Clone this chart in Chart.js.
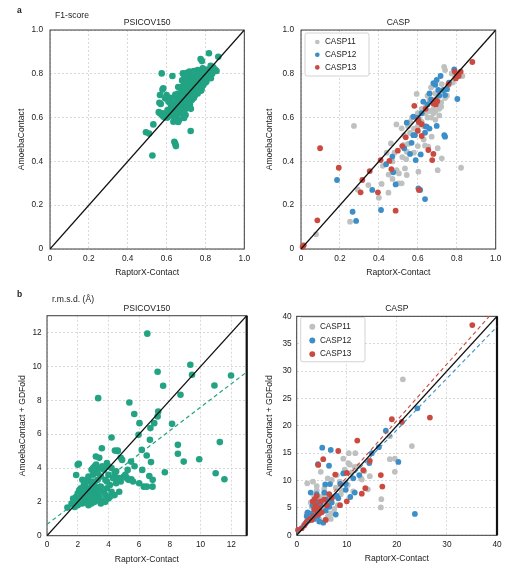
<!DOCTYPE html>
<html><head><meta charset="utf-8">
<script src="https://cdn.jsdelivr.net/npm/chart.js@4.4.1/dist/chart.umd.min.js"></script>
<style>
html,body{margin:0;padding:0;background:#fff;}
#wrap{position:relative;width:515px;height:570px;overflow:hidden;font-family:"Liberation Sans",Arial,Helvetica,sans-serif;color:#222;}
canvas{position:absolute;}
.lbl{position:absolute;white-space:nowrap;line-height:1;}
</style></head><body>
<div id="wrap">
<canvas id="c1" width="257" height="280" style="left:0;top:0"></canvas>
<canvas id="c2" width="258" height="280" style="left:257px;top:0"></canvas>
<canvas id="c3" width="257" height="290" style="left:0;top:280px"></canvas>
<canvas id="c4" width="258" height="290" style="left:257px;top:280px"></canvas>
<div class="lbl" style="left:17px;top:6px;font-weight:bold;font-size:8.5px">a</div>
<div class="lbl" style="left:55px;top:10.7px;font-size:8.6px">F1-score</div>
<div class="lbl" style="left:17px;top:290px;font-weight:bold;font-size:8.5px">b</div>
<div class="lbl" style="left:52px;top:295.2px;font-size:8.6px">r.m.s.d. (Å)</div>
</div>
<script>
// ---------- DATA ----------
const xTitle = 'RaptorX-Contact';
const yTitleF1 = 'AmoebaContact';
const yTitleRmsd = 'AmoebaContact + GDFold';
const seriesNames = ['CASP11', 'CASP12', 'CASP13'];

// F1-score, PSICOV150  [RaptorX-Contact, AmoebaContact]
const psicovF1 = [
 [0.818,0.894],[0.866,0.878],[0.775,0.868],[0.782,0.858],[0.827,0.837],[0.850,0.820],[0.857,0.813],
 [0.575,0.802],[0.630,0.790],[0.684,0.802],[0.718,0.810],[0.740,0.813],[0.760,0.817],[0.786,0.825],
 [0.583,0.734],[0.579,0.728],[0.566,0.703],[0.600,0.703],[0.592,0.688],[0.563,0.668],[0.570,0.662],
 [0.566,0.620],[0.575,0.613],[0.583,0.605],[0.600,0.620],[0.630,0.650],[0.622,0.660],[0.532,0.569],
 [0.635,0.581],[0.686,0.600],[0.698,0.612],[0.494,0.533],[0.510,0.527],[0.724,0.539],[0.640,0.490],
 [0.645,0.480],[0.648,0.470],[0.527,0.427],[0.777,0.723],[0.790,0.750],[0.805,0.765],[0.810,0.820],
 [0.830,0.810],[0.800,0.800],
 [0.620,0.640],[0.630,0.665],[0.640,0.630],[0.650,0.672],[0.660,0.650],[0.660,0.690],[0.670,0.680],
 [0.670,0.710],[0.680,0.660],[0.680,0.700],[0.680,0.730],[0.690,0.690],[0.690,0.720],[0.700,0.680],
 [0.700,0.710],[0.700,0.740],[0.700,0.760],[0.710,0.700],[0.710,0.730],[0.710,0.750],[0.720,0.720],
 [0.720,0.740],[0.720,0.770],[0.730,0.710],[0.730,0.750],[0.730,0.780],[0.740,0.730],[0.740,0.760],
 [0.740,0.790],[0.750,0.740],[0.750,0.770],[0.750,0.800],[0.760,0.750],[0.760,0.780],[0.770,0.760],
 [0.770,0.790],[0.780,0.770],[0.780,0.800],[0.790,0.780],[0.800,0.790],[0.800,0.760],[0.815,0.805],
 [0.820,0.790],[0.835,0.800],[0.690,0.650],[0.670,0.630],[0.650,0.610],[0.640,0.600],[0.660,0.620],
 [0.680,0.620],[0.700,0.640],[0.720,0.660],[0.740,0.690],[0.760,0.710],[0.780,0.730],[0.730,0.680],
 [0.710,0.670],[0.690,0.598],[0.665,0.590],[0.660,0.580],[0.600,0.605],[0.610,0.630],[0.620,0.610],
 [0.605,0.600],[0.580,0.620],[0.590,0.600],[0.560,0.625],[0.605,0.635],[0.650,0.690],[0.660,0.710],
 [0.675,0.740],[0.690,0.760],[0.700,0.790],[0.705,0.805],[0.725,0.800],[0.745,0.805],[0.765,0.800],
 [0.785,0.790],[0.795,0.810],[0.755,0.760],[0.735,0.740],[0.715,0.715],[0.695,0.700],[0.675,0.695],
 [0.655,0.655],[0.645,0.645],[0.635,0.620],[0.625,0.625],[0.685,0.675],[0.705,0.690],[0.725,0.700],
 [0.745,0.720],[0.765,0.740],[0.790,0.765],[0.810,0.780],[0.825,0.820],[0.840,0.830],[0.760,0.800],
 [0.735,0.720],[0.715,0.690],[0.650,0.630],[0.755,0.720],
 [0.660,0.740],[0.680,0.770],[0.645,0.705],[0.620,0.690],[0.610,0.672],[0.765,0.720],[0.785,0.745],
 [0.745,0.700],[0.705,0.660],[0.725,0.640],[0.668,0.640],[0.692,0.785],[0.712,0.790],[0.828,0.780]
];

// F1-score, CASP
const casp11F1 = [
 [0.272,0.562],[0.077,0.067],[0.252,0.125],[0.291,0.272],[0.346,0.292],[0.414,0.297],[0.400,0.234],
 [0.449,0.257],[0.470,0.320],[0.500,0.300],[0.517,0.300],[0.462,0.482],[0.490,0.569],[0.517,0.551],
 [0.526,0.475],[0.543,0.444],[0.491,0.360],[0.503,0.345],[0.534,0.368],[0.543,0.338],[0.603,0.353],
 [0.637,0.472],[0.654,0.467],[0.671,0.513],[0.702,0.460],[0.723,0.414],[0.702,0.360],[0.822,0.371],
 [0.594,0.708],[0.668,0.738],[0.688,0.711],[0.723,0.753],[0.774,0.802],[0.735,0.832],[0.740,0.817],
 [0.829,0.790],[0.791,0.784],[0.600,0.620],[0.620,0.640],[0.640,0.650],[0.660,0.630],[0.650,0.600],
 [0.680,0.640],[0.700,0.660],[0.720,0.670],[0.740,0.690],[0.620,0.580],[0.600,0.560],[0.580,0.550],
 [0.560,0.530],[0.550,0.560],[0.570,0.600],[0.630,0.560],[0.680,0.620],[0.700,0.700],[0.730,0.720],
 [0.760,0.750],[0.660,0.680],[0.690,0.630],[0.710,0.640],[0.640,0.620],[0.420,0.380],[0.450,0.340],
 [0.470,0.400],[0.440,0.440],[0.520,0.420],[0.540,0.410],[0.580,0.440],[0.630,0.500],[0.600,0.470],
 [0.550,0.480],[0.610,0.590],[0.670,0.600],[0.710,0.610],[0.750,0.700],[0.780,0.760],[0.810,0.800],
 [0.650,0.700],[0.560,0.580],[0.530,0.520],[0.480,0.440],[0.720,0.650],[0.690,0.590]
];
const casp12F1 = [
 [0.185,0.315],[0.265,0.170],[0.283,0.128],[0.366,0.270],[0.411,0.178],[0.437,0.387],[0.469,0.422],
 [0.474,0.350],[0.486,0.295],[0.543,0.577],[0.577,0.604],[0.560,0.434],[0.615,0.432],[0.577,0.520],
 [0.637,0.531],[0.646,0.559],[0.697,0.562],[0.740,0.513],[0.736,0.520],[0.803,0.685],[0.628,0.673],
 [0.668,0.683],[0.705,0.726],[0.697,0.772],[0.717,0.790],[0.680,0.757],[0.787,0.820],[0.731,0.726],
 [0.740,0.703],[0.603,0.277],[0.612,0.270],[0.637,0.228],[0.589,0.406],[0.568,0.485],[0.585,0.520],
 [0.660,0.710],[0.690,0.750],[0.650,0.660],[0.620,0.620],[0.600,0.600],[0.530,0.460],[0.640,0.560],
 [0.660,0.550],[0.760,0.760],[0.710,0.700],[0.750,0.730]
];
const casp13F1 = [
 [0.098,0.460],[0.194,0.371],[0.084,0.131],[0.014,0.017],[0.008,0.010],[0.315,0.315],[0.306,0.259],
 [0.353,0.356],[0.395,0.259],[0.409,0.406],[0.486,0.175],[0.454,0.402],[0.464,0.365],[0.497,0.449],
 [0.880,0.854],[0.790,0.810],[0.800,0.800],[0.810,0.790],[0.795,0.779],[0.757,0.753],[0.685,0.670],
 [0.690,0.680],[0.680,0.665],[0.700,0.675],[0.692,0.660],[0.582,0.654],[0.605,0.580],[0.620,0.570],
 [0.600,0.540],[0.538,0.510],[0.620,0.516],[0.654,0.452],[0.680,0.434],[0.674,0.406],[0.606,0.270],
 [0.640,0.640],[0.820,0.810],[0.600,0.590],[0.520,0.470]
];

// r.m.s.d. (Å), PSICOV150  [RaptorX-Contact, AmoebaContact + GDFold]
const psicovRmsd = [
 [6.53,11.94],[9.33,10.10],[9.44,9.51],[7.20,9.69],[7.56,8.86],[11.98,9.47],[10.90,8.88],[8.69,8.33],
 [3.33,8.13],[5.36,7.87],[5.68,7.19],[7.24,7.34],[7.20,7.05],[6.02,6.65],[6.98,6.65],[8.14,6.61],
 [6.73,6.36],[5.96,5.96],[4.20,5.80],[6.70,5.67],[11.25,5.53],[8.52,5.37],[3.57,5.17],[4.42,5.03],
 [4.60,5.03],[6.17,5.07],[6.49,4.74],[8.52,4.84],[6.77,4.35],[8.90,4.38],[9.91,4.52],[5.47,4.38],
 [2.07,4.25],[3.18,4.68],[6.20,3.89],[10.98,3.69],[7.67,3.75],[6.66,3.53],[6.88,3.30],[11.55,3.34],
 [6.00,3.10],[6.30,2.90],[6.50,2.90],[6.87,2.90],[1.90,3.59],[5.49,3.34],[5.06,3.49],[5.25,3.89],
 [4.89,4.48],[1.33,1.66],[3.60,2.07],[4.31,2.41],
 [1.60,1.90],[1.80,2.00],[1.90,2.30],[2.00,1.80],[2.00,2.50],[2.10,2.10],[2.20,2.80],[2.20,2.30],
 [2.30,1.90],[2.30,2.60],[2.40,2.20],[2.40,3.00],[2.50,2.00],[2.50,2.50],[2.60,2.80],[2.60,2.30],
 [2.70,1.80],[2.70,2.60],[2.80,3.20],[2.80,2.10],[2.90,2.40],[2.90,2.90],[3.00,2.20],[3.00,3.60],
 [3.00,2.70],[3.10,4.10],[3.10,2.00],[3.10,3.00],[3.20,2.50],[3.20,3.80],[3.30,2.80],[3.30,3.30],
 [3.40,2.30],[3.40,4.00],[3.50,2.90],[3.50,3.50],[3.70,2.60],[3.70,3.90],[3.80,2.40],[3.80,3.30],
 [3.90,2.80],[4.00,3.60],[4.00,2.20],[4.10,3.00],[4.20,4.00],[4.20,2.60],[4.30,3.40],[4.40,2.40],
 [4.50,3.80],[4.50,3.10],[4.60,3.40],[4.70,2.60],[4.80,3.20],[5.00,3.50],[5.20,3.40],[5.70,4.10],
 [2.00,4.20],[2.30,3.30],[2.60,3.30],[2.90,3.90],[3.20,4.20],[3.40,4.60],[4.60,5.00],[4.80,4.60],
 [4.00,4.10],[3.90,4.30],[1.70,2.20],[2.10,2.70],[2.50,3.10],[2.80,2.50],[3.30,2.10],[3.50,1.90],
 [3.80,2.00],[4.10,2.30],[2.70,3.50],[3.00,3.20],[3.30,3.70],[3.60,4.10],[3.00,4.00],[2.40,2.70],
 [2.20,2.00],[1.80,1.70],[2.90,1.90],[3.20,2.20],[3.40,2.60],[3.90,3.20],[4.40,3.70],[4.70,3.40],
 [5.10,3.60],[5.30,3.30],[5.60,3.20]
];

// r.m.s.d. (Å), CASP
const casp11Rmsd = [
 [21.2,28.5],[18.6,18.1],[23.0,16.3],[18.6,13.9],[19.6,14.0],[19.6,11.6],[16.9,6.6],[16.8,5.1],
 [10.4,15.0],[11.7,15.0],[9.3,14.0],[10.3,13.2],[10.6,12.9],[11.3,8.0],[14.2,8.4],[14.6,10.8],
 [8.6,9.8],[7.0,10.1],[2.1,9.5],[3.25,9.8],[4.8,11.6],[11.6,12.5],[12.8,10.5],[13.5,11.7],
 [9.6,12.0],[8.0,11.0],[6.2,10.4],[5.5,8.5],[4.0,8.2],[3.5,7.0],[2.8,6.0],[4.5,6.3],[6.0,7.5],
 [7.2,7.0],[6.5,5.8],[5.2,5.0],[4.3,4.5],[3.2,4.0],[2.5,3.5],[6.8,4.0],[7.5,4.8],[6.2,3.4],
 [8.2,5.5],[9.0,8.2],[10.2,9.2],[12.3,12.6],[13.0,10.2],[11.0,11.5],[3.0,5.2],[2.0,4.0],[5.0,7.0],
 [3.8,5.5],[1.5,2.0],[7.8,8.7],[8.8,7.5],[4.0,9.0],[6.8,3.0],[5.8,2.9],[4.6,2.8]
];
const casp12Rmsd = [
 [24.1,23.2],[17.8,19.1],[20.3,13.4],[23.6,3.9],[16.4,16.1],[15.0,15.0],[5.1,16.0],[6.8,15.6],
 [4.25,13.0],[6.45,12.7],[9.3,11.3],[6.65,9.36],[9.8,9.36],[11.3,10.4],[8.7,9.4],[9.8,8.3],
 [11.6,7.8],[8.3,6.75],[10.7,7.0],[2.8,7.8],[5.3,2.3],[5.7,9.3],[14.5,13.2],[4.0,7.5],[3.0,4.0],
 [2.2,4.2],[2.0,3.5],[3.5,3.0],[4.5,2.5],[5.8,4.5],[6.5,5.2],[7.8,3.8],[4.8,5.8],[3.8,6.2],
 [6.0,6.5],[2.5,2.8],[1.8,2.2],[4.2,3.5],[7.0,6.0],[3.2,5.5],[5.5,7.8],[8.0,7.2],[12.5,11.0]
];
const casp13Rmsd = [
 [35.07,38.4],[26.6,21.5],[19.0,21.2],[21.0,20.7],[16.8,11.0],[17.1,8.9],[12.1,17.3],[8.3,15.4],
 [5.3,13.9],[4.3,12.85],[14.6,13.6],[13.3,11.9],[7.7,11.1],[10.0,11.4],[13.0,7.6],[8.65,5.5],
 [10.0,6.2],[3.6,6.6],[0.26,0.97],[2.0,2.5],[2.7,3.0],[3.3,3.5],[1.5,1.8],[1.0,1.3],[2.4,2.7],
 [3.0,2.8],[4.0,4.5],[4.5,5.0],[3.8,5.5],[4.8,6.2],[5.5,6.5],[5.0,4.2],[6.0,5.5],[3.5,4.8],
 [4.2,3.8],[5.8,2.8],[7.0,6.8],[6.5,7.5],[4.0,7.2],[4.5,4.0],[3.2,6.2],[13.7,8.6]
];

// reference diagonals (y = x) and fitted dashed lines
const diagF1 = [0, 1];
const diagPsicovRmsd = [0, 13];
const diagCaspRmsd = [0, 40];
const fitPsicovX = [0, 13],  fitPsicovY = [0.67, 9.67];
const fitCasp12X = [0, 40],  fitCasp12Y = [0.4, 38.1];
const fitCasp13X = [0, 40],  fitCasp13Y = [0.3, 41.6];

// ---------- STYLE / HELPERS ----------
const FONT = '"Liberation Sans", Arial, Helvetica, sans-serif';
const GREEN = '#22a383', GRAY = '#bec1bf', BLUE = '#3b8ec8', RED = '#cb4a3f';
Chart.defaults.font.family = FONT;
Chart.defaults.color = '#222';

const toPts = arr => arr.map(p => ({x: p[0], y: p[1]}));
const diag = arr => arr.map(v => ({x: v, y: v}));
const line = (xs, ys) => xs.map((v, i) => ({x: v, y: ys[i]}));

const framePlugin = {
  id: 'frame',
  beforeDatasetsDraw(chart, args, o) {
    const {left, top, right, bottom} = chart.chartArea;
    const ctx = chart.ctx;
    ctx.save();
    ctx.strokeStyle = '#3a3a3a';
    ctx.lineWidth = 1;
    ctx.strokeRect(left, top, right - left, bottom - top);
    if (o && o.rightWidth) {
      ctx.lineWidth = o.rightWidth;
      ctx.strokeStyle = '#111';
      ctx.beginPath();
      ctx.moveTo(right, top); ctx.lineTo(right, bottom);
      ctx.stroke();
    }
    ctx.restore();
  }
};

const legendBoxPlugin = {
  id: 'legendBox',
  beforeDraw(chart) {
    const lg = chart.legend;
    const o = chart.options.plugins.legendBox;
    if (!lg || !o || !o.show || lg._boxWrapped) return;
    const orig = lg.draw;
    lg.draw = function () {
      const ca = chart.chartArea;
      const ctx = chart.ctx;
      ctx.save();
      ctx.beginPath();
      ctx.roundRect(ca.left + o.bx, ca.top + o.by, o.bw, o.bh, 2);
      ctx.fillStyle = '#fff';
      ctx.fill();
      ctx.strokeStyle = '#c8c8c8';
      ctx.lineWidth = 0.8;
      ctx.stroke();
      ctx.restore();
      const s = {l: this.left, t: this.top, r: this.right, b: this.bottom};
      this.left = ca.left + o.dx; this.top = ca.top + o.dy;
      this.right = ca.right; this.bottom = ca.bottom;
      orig.apply(this, arguments);
      this.left = s.l; this.top = s.t; this.right = s.r; this.bottom = s.b;
    };
    lg._boxWrapped = true;
  }
};

function scaleCfg(o) {
  return {
    type: 'linear', min: o.min, max: o.max,
    afterFit: o.fit,
    title: {display: true, text: o.title, font: {size: 8.6, family: FONT}, color: '#222', padding: o.titlePad},
    ticks: {stepSize: o.step, includeBounds: false, padding: o.tickPad, font: {size: 8.3, family: FONT},
            color: '#222', callback: o.fmt, maxRotation: 0, autoSkip: false},
    grid: {color: '#d0d0d0', lineWidth: 0.8, drawTicks: false, z: -1},
    border: {display: false, dash: [2, 2]}
  };
}
const fmtF1 = v => (v === 0 ? '0' : Number(v).toFixed(1));
const fmtInt = v => String(Math.round(v));

function scatterDs(label, pts, color, r, order) {
  return {label, data: toPts(pts), backgroundColor: color, borderWidth: 0, pointRadius: r,
          pointHoverRadius: r, order, clip: false};
}
function lineDs(label, pts, color, width, dash) {
  return {label, data: pts, showLine: true, borderColor: color, borderWidth: width,
          borderDash: dash || [], pointRadius: 0, fill: false, order: 0};
}

function makeChart(id, P) {
  return new Chart(document.getElementById(id), {
    type: 'scatter',
    data: {datasets: P.datasets},
    options: {
      responsive: false, animation: false, events: [],
      layout: {padding: {left: 0, right: P.right, top: 0, bottom: 0}},
      scales: {
        x: scaleCfg({min: 0, max: P.max, step: P.xStep, title: xTitle, titlePad: {top: 0, bottom: P.xTitlePad},
                     tickPad: P.xTickPad, fmt: P.fmt, fit: s => { s.height = P.xH; }}),
        y: scaleCfg({min: 0, max: P.max, step: P.yStep, title: P.yTitle, titlePad: {top: P.yTitlePad, bottom: 0},
                     tickPad: P.yTickPad, fmt: P.fmt, fit: s => { s.width = P.yW; }})
      },
      plugins: {
        title: {display: true, text: P.title, fullSize: false, color: '#222',
                font: {size: 8.6, weight: 'normal', family: FONT}, padding: P.titlePad},
        legend: P.legend ? {
          display: true, position: 'chartArea', align: 'start',
          labels: {usePointStyle: true, boxWidth: 7, boxHeight: P.legend.boxH, padding: P.legend.pad,
                   font: {size: 8.2, family: FONT}, color: '#222',
                   filter: item => item.datasetIndex < 3,
                   sort: (a, b) => a.datasetIndex - b.datasetIndex}
        } : {display: false},
        legendBox: P.legend ? Object.assign({show: true}, P.legend) : {show: false},
        tooltip: {enabled: false},
        frame: {rightWidth: P.rightWidth || 0}
      }
    },
    plugins: [framePlugin, legendBoxPlugin]
  });
}

// ---------- CHARTS ----------
makeChart('c1', {
  title: 'PSICOV150', yTitle: yTitleF1, max: 1, xStep: 0.2, yStep: 0.2, fmt: fmtF1,
  right: 12.7, yW: 50, xH: 31, titlePad: {top: 17.5, bottom: 2.2},
  yTitlePad: 16.5, xTitlePad: 1.8, xTickPad: 4.3, yTickPad: 7,
  datasets: [
    lineDs('y=x', diag(diagF1), '#111', 1.3),
    scatterDs('PSICOV150', psicovF1, GREEN, 3.3, 1)
  ]
});

makeChart('c2', {
  title: 'CASP', yTitle: yTitleF1, max: 1, xStep: 0.2, yStep: 0.2, fmt: fmtF1,
  right: 19.3, yW: 44, xH: 31, titlePad: {top: 17.5, bottom: 2.2},
  yTitlePad: 7.8, xTitlePad: 1.8, xTickPad: 4.3, yTickPad: 7,
  legend: {boxH: 3.3, pad: 4.5, dx: 8.3, dy: 3.4, bx: 4, by: 3, bw: 64, bh: 43},
  datasets: [
    scatterDs(seriesNames[0], casp11F1, GRAY, 2.9, 3),
    scatterDs(seriesNames[1], casp12F1, BLUE, 2.9, 2),
    scatterDs(seriesNames[2], casp13F1, RED, 2.9, 1),
    lineDs('y=x', diag(diagF1), '#111', 1.3)
  ]
});

makeChart('c3', {
  title: 'PSICOV150', yTitle: yTitleRmsd, max: 13, xStep: 2, yStep: 2, fmt: fmtInt,
  right: 10.3, yW: 47, xH: 34.3, titlePad: {top: 23.1, bottom: 2.3},
  yTitlePad: 17.5, xTitlePad: 5.5, xTickPad: 4.3, yTickPad: 5.3, rightWidth: 2.2,
  datasets: [
    lineDs('y=x', diag(diagPsicovRmsd), '#111', 1.3),
    lineDs('fit', line(fitPsicovX, fitPsicovY), GREEN, 1.2, [4, 3]),
    scatterDs('PSICOV150', psicovRmsd, GREEN, 3.3, 1)
  ]
});

makeChart('c4', {
  title: 'CASP', yTitle: yTitleRmsd, max: 40, xStep: 10, yStep: 5, fmt: fmtInt,
  right: 18, yW: 39.7, xH: 34.7, titlePad: {top: 23.1, bottom: 2.9},
  yTitlePad: 7.8, xTitlePad: 6.5, xTickPad: 4.6, yTickPad: 5, rightWidth: 2.2,
  legend: {boxH: 4.2, pad: 5.5, dx: 6.6, dy: 0.8, bx: 4, by: 1, bw: 64.3, bh: 44.4},
  datasets: [
    scatterDs(seriesNames[0], casp11Rmsd, GRAY, 2.9, 3),
    scatterDs(seriesNames[1], casp12Rmsd, BLUE, 2.9, 2),
    scatterDs(seriesNames[2], casp13Rmsd, RED, 2.9, 1),
    lineDs('y=x', diag(diagCaspRmsd), '#111', 1.3),
    lineDs('fit CASP12', line(fitCasp12X, fitCasp12Y), BLUE, 1.1, [4, 3]),
    lineDs('fit CASP13', line(fitCasp13X, fitCasp13Y), RED, 1.1, [4, 3])
  ]
});
</script>
</body></html>
